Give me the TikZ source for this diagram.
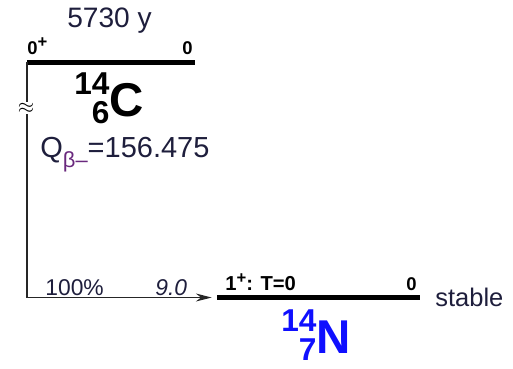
\documentclass[tikz,border=0pt]{standalone}
\usepackage{fontspec}
\setmainfont{Liberation Sans}
\setsansfont{Liberation Sans}
\usetikzlibrary{arrows.meta}

\definecolor{inknavy}{RGB}{30,30,60}
\definecolor{betapurple}{RGB}{105,40,125}
\definecolor{nblue}{RGB}{15,15,255}

% mass number over charge number, then the element symbol
\newcommand{\isotope}[3]{%
  {\fontsize{18}{18}\selectfont\raisebox{12.5pt}{#1}\llap{\raisebox{-4.5pt}{#2}}}%
  {\fontsize{27}{27}\selectfont#3}}
% raised parity sign
\newcommand{\parsign}[1]{\raisebox{3.5pt}{\fontsize{9.5}{9.5}\selectfont#1}}

\begin{document}
\begin{tikzpicture}[
  x=0.02cm, y=-0.02cm,
  font=\sffamily,
  >=Stealth,
  level/.style={draw=black, line width=2.5pt},
  decay/.style={draw=black!85, line width=0.8pt},
  spin/.style={font=\sffamily\bfseries\fontsize{10.5}{10.5}\selectfont, inner sep=0pt, anchor=base west},
  lab/.style={font=\sffamily\fontsize{13}{13}\selectfont, text=inknavy, inner sep=0pt, anchor=base west},
  nuc/.style={font=\sffamily\bfseries, inner sep=0pt, anchor=base west}
]
\path[use as bounding box] (0,0) rectangle (513,368);

% parent level
\coordinate (cL) at (27,62.5);
\coordinate (cR) at (195,62.5);
\draw[level] (cL) -- (cR);
\node[spin] (cspin) at (27,54) {0\parsign{+}};
\node[spin, anchor=base east] (cen) at (193,54) {0};
\node[lab, font=\sffamily\fontsize{16}{16}\selectfont] (chalf) at (67,28) {5730 y};
\node[nuc] (cnuc) at (74,116) {\isotope{14}{6}{C}};
\node[lab, font=\sffamily\fontsize{16.5}{16.5}\selectfont] (cq) at (40,157)
  {Q\raisebox{-6pt}{\textcolor{betapurple}{\fontsize{12.5}{12.5}\selectfont β–}}=156.475};

% daughter level
\coordinate (nL) at (217,297.5);
\coordinate (nR) at (420,297.5);
\draw[level] (nL) -- (nR);
\node[spin, font=\sffamily\bfseries\fontsize{11.5}{11.5}\selectfont] (nspin) at (225,290) {1\parsign{+}: T=0};
\node[spin, anchor=base east] (nen) at (417,290) {0};
\node[lab, font=\sffamily\fontsize{14.5}{14.5}\selectfont] (nstab) at (435,306) {stable};
\node[nuc, text=nblue] (nnuc) at (281,353) {\isotope{14}{7}{N}};

% beta branch
\draw[decay, -{Stealth[length=9pt,width=4.5pt]}] (cL) |- ([xshift=-3pt]nL);
\node[inner sep=0.8pt, fill=white] (cbreak) at (26,108) {\fontsize{12}{12}\selectfont$\approx$};
\node[lab] (nint) at (45,295) {100\%};
\node[lab, font=\sffamily\itshape\fontsize{13}{13}\selectfont] (nlogft) at (155,295) {9.0};
\end{tikzpicture}
\end{document}
